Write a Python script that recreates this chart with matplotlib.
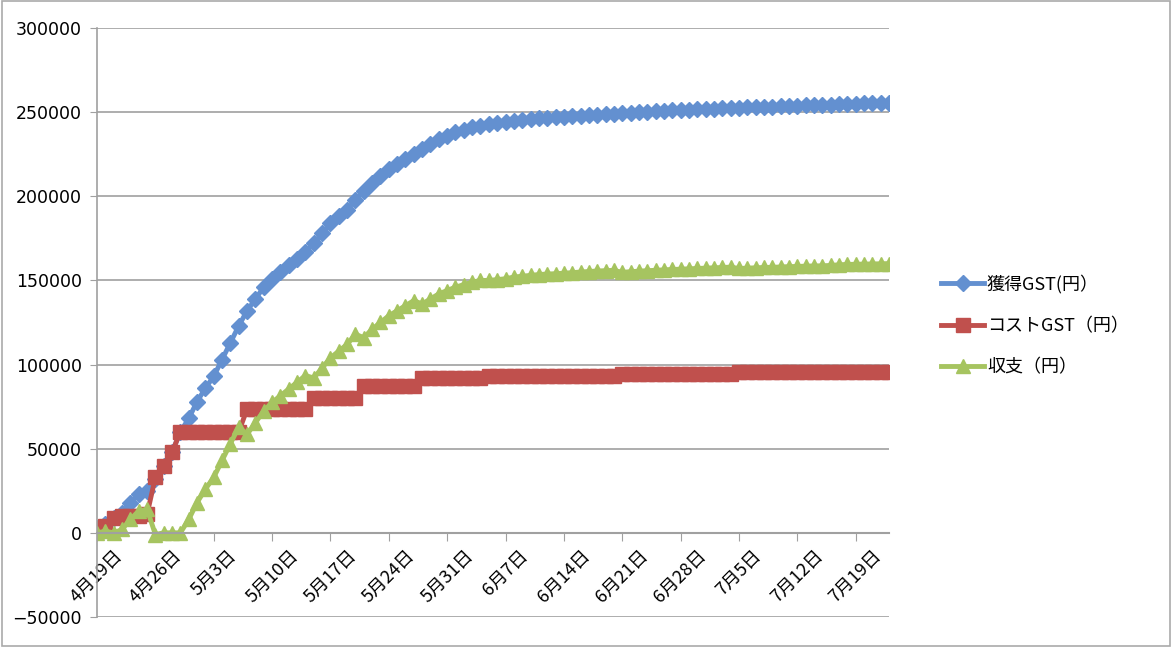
import numpy as np
import matplotlib
matplotlib.use("Agg")
import matplotlib.pyplot as plt
from matplotlib.patches import Rectangle
from matplotlib.transforms import ScaledTranslation

plt.rcParams["font.family"] = ["Noto Sans CJK JP", "DejaVu Sans"]

# one point per day, 4/19 .. 7/23
dates = np.arange("2022-04-19", "2022-07-24", dtype="datetime64[D]")

earned = [
    3000, 5000, 9000, 12000, 18000, 23000, 25000, 32000, 40000, 48000,
    60000, 68000, 78000, 86000, 93000, 103000, 113000, 123000, 132000, 139000,
    146000, 151000, 155000, 159000, 163000, 167000, 172000, 178000, 184000, 188000,
    192000, 198000, 203000, 208000, 212000, 216000, 219000, 222000, 225000, 228000,
    231000, 234000, 236000, 238000, 239500, 241000, 242000, 243000, 243500, 244000,
    245000, 245500, 246000, 246500, 246800, 247000, 247300, 247600, 248000, 248300,
    248600, 248800, 249000, 249300, 249700, 250000, 250300, 250500, 250800, 251000,
    251200, 251400, 251600, 251800, 252000, 252200, 252400, 252600, 252800, 253000,
    253200, 253300, 253500, 253700, 253800, 254000, 254100, 254200, 254400, 254800,
    255000, 255100, 255200, 255300, 255400, 255500,
]

cost = [
    3000, 4000, 9000, 10000, 10000, 10000, 11000, 33000, 40000, 48000,
    60000, 60000, 60000, 60000, 60000, 60000, 60000, 60000, 73500, 73500,
    73500, 73500, 73500, 73500, 73500, 73500, 80000, 80000, 80000, 80000,
    80000, 80000, 87000, 87000, 87000, 87000, 87000, 87000, 87000, 92000,
    92000, 92000, 92000, 92000, 92000, 92000, 92000, 93000, 93000, 93000,
    93000, 93000, 93000, 93000, 93000, 93000, 93000, 93000, 93000, 93000,
    93000, 93000, 93000, 94500, 94500, 94500, 94500, 94500, 94500, 94500,
    94500, 94500, 94500, 94500, 94500, 94500, 94500, 95500, 95500, 95500,
    95500, 95500, 95500, 95500, 95500, 95500, 95500, 95500, 95500, 95500,
    95500, 95500, 95500, 95500, 95500, 95500,
]

balance = [
    0, 1000, 0, 2000, 8000, 13000, 14000, -1000, 0, 0,
    0, 8000, 18000, 26000, 33000, 43000, 53000, 63000, 58500, 65500,
    72500, 77500, 81500, 85500, 89500, 93500, 92000, 98000, 104000, 108000,
    112000, 118000, 116000, 121000, 125000, 129000, 132000, 135000, 138000, 136000,
    139000, 142000, 144000, 146000, 147500, 149000, 150000, 150000, 150500, 151000,
    152000, 152500, 153000, 153500, 153800, 154000, 154300, 154600, 155000, 155300,
    155600, 155800, 156000, 154800, 155200, 155500, 155800, 156000, 156300, 156500,
    156700, 156900, 157100, 157300, 157500, 157700, 157900, 157100, 157300, 157500,
    157700, 157800, 158000, 158200, 158300, 158500, 158600, 158700, 158900, 159300,
    159500, 159600, 159700, 159800, 159900, 160000,
]

labels = ["獲得GST(円）", "コストGST（円）", "収支（円）"]
colors = ["#6390d0", "#c0504d", "#a6c460"]

fig = plt.figure(figsize=(11.72, 6.47), dpi=100)
ax = fig.add_axes([0.0828, 0.0464, 0.6757, 0.9103])

ax.plot(dates, earned, color=colors[0], lw=3.5, marker="D", ms=8, label=labels[0])
ax.plot(dates, cost, color=colors[1], lw=3.5, marker="s", ms=10, label=labels[1])
ax.plot(dates, balance, color=colors[2], lw=3.5, marker="^", ms=10, label=labels[2])

ax.set_xlim(dates[0], dates[-1])
ax.set_ylim(-50000, 300000)
ax.set_yticks(np.arange(-50000, 300001, 50000))
ax.yaxis.grid(True, color="#a0a0a0", lw=1.2)
ax.set_axisbelow(True)

ticks = dates[::7]
ax.set_xticks(ticks)
tick_labels = []
for t in ticks:
    s = str(t)
    tick_labels.append(f"{int(s[5:7])}月{int(s[8:10])}日")
ax.set_xticklabels(tick_labels)
ax.tick_params(axis="x", labelrotation=45, labelsize=13)
shift = ScaledTranslation(8 / 100, 0, fig.dpi_scale_trans)
for lab in ax.get_xticklabels():
    lab.set_ha("right")
    lab.set_va("top")
    lab.set_rotation_mode("anchor")
    lab.set_transform(lab.get_transform() + shift)

for side in ["top", "right"]:
    ax.spines[side].set_visible(False)
ax.spines["bottom"].set_position(("data", 0))
ax.spines["bottom"].set_color("#a0a0a0")
ax.spines["bottom"].set_linewidth(1.5)
ax.spines["left"].set_color("#a0a0a0")
ax.spines["left"].set_linewidth(1.2)
ax.tick_params(axis="x", direction="out", length=6, color="#a0a0a0", pad=4)
ax.tick_params(axis="y", direction="out", length=5, color="#a0a0a0",
               labelsize=12.5, pad=6)
for lab in ax.get_yticklabels():
    lab.set_family("DejaVu Sans")

ax.legend(loc="center left", bbox_to_anchor=(1.045, 0.495), frameon=False,
          fontsize=13, handlelength=2.4, labelspacing=1.3, handletextpad=0.15)

fig.patches.append(Rectangle((0.002, 0.002), 0.996, 0.996, transform=fig.transFigure,
                             fill=False, edgecolor="#aaaaaa", lw=1.2))

fig.savefig("out.png", dpi=100)
